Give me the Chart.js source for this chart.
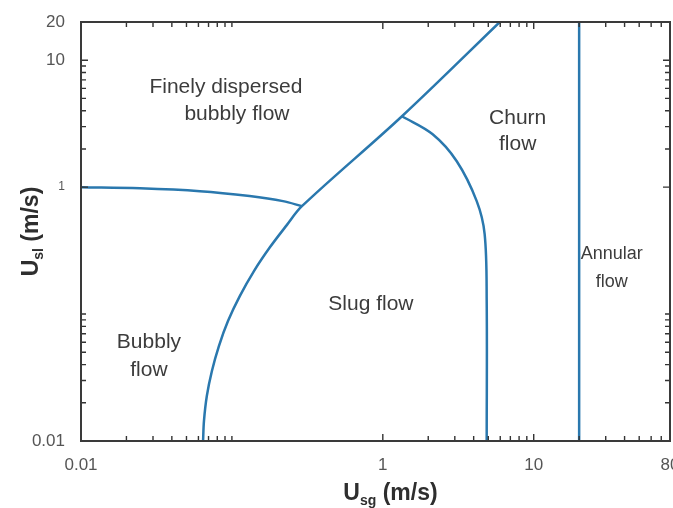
<!DOCTYPE html>
<html><head><meta charset="utf-8">
<script src="https://cdn.jsdelivr.net/npm/chart.js@4"></script>
<style>html,body{margin:0;padding:0;background:#fff}</style>
</head><body>
<canvas id="c" width="673" height="508"></canvas>
<script>
// ---- data ----
const xTickValues = [0.01, 1, 10, 80];
const yTickValues = [0.01, 1, 10, 20];
const xMinorTicks = [0.02,0.03,0.04,0.05,0.06,0.07,0.08,0.09,0.1,2,3,4,5,6,7,8,9,20,30,40,50,60,70];
const yMinorTicks = [0.02,0.03,0.04,0.05,0.06,0.07,0.08,0.09,0.1,2,3,4,5,6,7,8,9];

// Finely dispersed bubbly / bubbly boundary
const dispersedX = [0.01, 0.0246, 0.0614, 0.131, 0.218, 0.291];
const dispersedY = [1.0, 0.98, 0.93, 0.85, 0.776, 0.708];
// Bubbly / slug boundary continuing to the top
const bubblySlugX = [0.0644, 0.0653, 0.0682, 0.0737, 0.0820, 0.0942, 0.113, 0.140, 0.179, 0.231, 0.291, 1.34, 5.96];
const bubblySlugY = [0.01, 0.0144, 0.0226, 0.0356, 0.0560, 0.0881, 0.139, 0.218, 0.337, 0.502, 0.708, 3.62, 20];
// Slug / churn boundary
const slugChurnX = [1.34, 2.14, 3.09, 4.19, 4.73, 4.88, 4.88];
const slugChurnY = [3.62, 2.61, 1.60, 0.776, 0.427, 0.127, 0.01];
// Churn / annular boundary
const annularX = [20, 20];
const annularY = [0.01, 20];

const regionTexts = ['Finely dispersed', 'bubbly flow', 'Churn', 'flow', 'Annular', 'flow', 'Slug flow', 'Bubbly', 'flow'];
const regionTextX = [0.0912, 0.108, 7.83, 7.83, 32.9, 32.9, 0.834, 0.0282, 0.0282];
const regionTextY = [6.13, 3.76, 3.49, 2.18, 0.297, 0.179, 0.120, 0.0602, 0.0362];

// ---- styles ----
const FONT = "'Liberation Sans', Arial, Helvetica, sans-serif";
const LINE = '#2a78ae';
const labelSizes = [21, 21, 21, 21, 18, 18, 21, 21, 21];

const pts = (xs, ys) => xs.map((x, i) => ({x: x, y: ys[i]}));
const mkSet = (xs, ys) => ({data: pts(xs, ys), borderColor: LINE, borderWidth: 2.5, pointRadius: 0, showLine: true, tension: 0.35, fill: false});

function subText(ctx, x, y, main, sub, rest, size) {
  const ss = Math.round(size * 0.62);
  ctx.font = 'bold ' + size + 'px ' + FONT;
  const w1 = ctx.measureText(main).width;
  const w3 = ctx.measureText(rest).width;
  ctx.font = 'bold ' + ss + 'px ' + FONT;
  const w2 = ctx.measureText(sub).width;
  let sx = x - (w1 + w2 + w3) / 2;
  ctx.textAlign = 'left'; ctx.textBaseline = 'alphabetic';
  ctx.font = 'bold ' + size + 'px ' + FONT;
  ctx.fillText(main, sx, y); sx += w1;
  ctx.font = 'bold ' + ss + 'px ' + FONT;
  ctx.fillText(sub, sx, y + size * 0.2); sx += w2;
  ctx.font = 'bold ' + size + 'px ' + FONT;
  ctx.fillText(rest, sx, y);
}

const decor = {
  id: 'decor',
  afterDatasetsDraw(chart) {
    const ctx = chart.ctx, a = chart.chartArea, xs = chart.scales.x, ys = chart.scales.y;
    ctx.save();
    // ticks (inward)
    ctx.strokeStyle = '#333'; ctx.lineWidth = 1.4;
    ctx.beginPath();
    xMinorTicks.concat([1, 10]).forEach(v => {
      const px = xs.getPixelForValue(v), len = (v === 1 || v === 10) ? 7 : 5;
      ctx.moveTo(px, a.bottom); ctx.lineTo(px, a.bottom - len);
      ctx.moveTo(px, a.top); ctx.lineTo(px, a.top + len);
    });
    yMinorTicks.concat([1, 10]).forEach(v => {
      const py = ys.getPixelForValue(v), len = (v === 1 || v === 10) ? 7 : 5;
      ctx.moveTo(a.left, py); ctx.lineTo(a.left + len, py);
      ctx.moveTo(a.right, py); ctx.lineTo(a.right - len, py);
    });
    ctx.stroke();
    // frame
    ctx.strokeStyle = '#3a3a3a'; ctx.lineWidth = 2;
    ctx.strokeRect(a.left, a.top, a.right - a.left, a.bottom - a.top);
    // region labels
    ctx.fillStyle = '#3c3c3c';
    ctx.textAlign = 'center'; ctx.textBaseline = 'middle';
    regionTexts.forEach((t, i) => {
      ctx.font = labelSizes[i] + 'px ' + FONT;
      ctx.fillText(t, xs.getPixelForValue(regionTextX[i]), ys.getPixelForValue(regionTextY[i]));
    });
    // axis titles
    ctx.fillStyle = '#2e2e2e';
    subText(ctx, (a.left + a.right) / 2 + 15, 500, 'U', 'sg', ' (m/s)', 23);
    ctx.save();
    ctx.translate(38, (a.top + a.bottom) / 2);
    ctx.rotate(-Math.PI / 2);
    subText(ctx, 0, 0, 'U', 'sl', ' (m/s)', 23);
    ctx.restore();
    ctx.restore();
  }
};

new Chart(document.getElementById('c'), {
  type: 'scatter',
  data: {datasets: [
    mkSet(dispersedX, dispersedY),
    mkSet(bubblySlugX, bubblySlugY),
    mkSet(slugChurnX, slugChurnY),
    mkSet(annularX, annularY)
  ]},
  options: {
    responsive: false, animation: false, devicePixelRatio: 1,
    layout: {padding: {top: 22, right: 3, left: 0, bottom: 0}},
    plugins: {legend: {display: false}, tooltip: {enabled: false}},
    scales: {
      x: {
        type: 'logarithmic', min: 0.01, max: 80,
        grid: {display: false, drawTicks: false}, border: {display: false},
        ticks: {color: '#555', font: {family: FONT, size: 17}, padding: 14, maxRotation: 0, autoSkip: false, callback: v => String(v)},
        afterBuildTicks: s => { s.ticks = xTickValues.map(v => ({value: v})); },
        afterFit: s => { s.height = 67; s.paddingLeft = 0; s.paddingRight = 0; }
      },
      y: {
        type: 'logarithmic', min: 0.01, max: 20,
        grid: {display: false, drawTicks: false}, border: {display: false},
        ticks: {color: '#555', font: c => ({family: FONT, size: (c.tick && c.tick.value === 1) ? 12 : 17}), padding: 16, autoSkip: false, callback: v => String(v)},
        afterBuildTicks: s => { s.ticks = yTickValues.map(v => ({value: v})); },
        afterFit: s => { s.width = 81; s.paddingTop = 0; s.paddingBottom = 0; }
      }
    }
  },
  plugins: [decor]
});
</script>
</body></html>
